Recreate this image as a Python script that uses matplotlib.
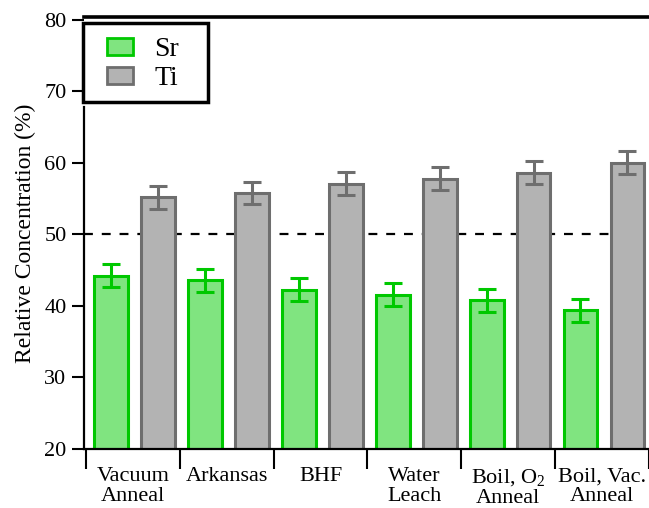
import matplotlib
matplotlib.use("Agg")
import matplotlib.pyplot as plt
from matplotlib.patches import Patch, Rectangle
import numpy as np

plt.rcParams["font.family"] = ["Liberation Serif", "DejaVu Serif"]
plt.rcParams["mathtext.fontset"] = "custom"
plt.rcParams["mathtext.rm"] = "Liberation Serif"
plt.rcParams["mathtext.it"] = "Liberation Serif:italic"

categories = ["Vacuum\nAnneal", "Arkansas", "BHF", "Water\nLeach",
              "Boil, O$_2$\nAnneal", "Boil, Vac.\nAnneal"]
sr_values = [44.2, 43.6, 42.3, 41.6, 40.8, 39.4]
sr_errors = [1.6, 1.6, 1.6, 1.6, 1.6, 1.6]
ti_values = [55.2, 55.8, 57.1, 57.8, 58.6, 60.0]
ti_errors = [1.6, 1.6, 1.6, 1.6, 1.6, 1.6]
yticks = [20, 30, 40, 50, 60, 70, 80]

sr_fill, sr_edge = "#80e480", "#00c800"
ti_fill, ti_edge = "#b3b3b3", "#6e6e6e"

W, H = 649, 508
fig = plt.figure(figsize=(W / 100, H / 100), dpi=100)
ax = fig.add_axes([84 / W, 59 / H, (W - 84) / W, (449 - 17) / H])

idx = np.arange(len(categories))
bw = 0.36
ax.bar(idx + 0.27, sr_values, width=bw, color=sr_fill, edgecolor=sr_edge,
       linewidth=2.2, zorder=2)
ax.bar(idx + 0.77, ti_values, width=bw, color=ti_fill, edgecolor=ti_edge,
       linewidth=2.2, zorder=2)
ax.errorbar(idx + 0.27, sr_values, yerr=sr_errors, fmt="none", ecolor=sr_edge,
            elinewidth=2.2, capsize=6.2, capthick=2.2, zorder=3)
ax.errorbar(idx + 0.77, ti_values, yerr=ti_errors, fmt="none", ecolor=ti_edge,
            elinewidth=2.2, capsize=6.2, capthick=2.2, zorder=3)

# 50 % reference level
ax.axhline(50, color="black", linestyle=(0, (4, 4)), linewidth=1.6, zorder=1)

ax.set_xlim(-0.02, 6.0)
ax.set_ylim(20, 80.4)

ax.set_yticks(yticks)
ax.tick_params(axis="y", direction="out", length=8.6, width=1.5, pad=4,
               labelsize=16)

# category boundaries as ticks, names centred between them
ax.set_xticks(np.arange(0, len(categories) + 1))
ax.set_xticklabels([])
ax.tick_params(axis="x", which="major", direction="out", length=14.5, width=1.5)
ax.set_xticks(idx + 0.5, minor=True)
ax.set_xticklabels(categories, minor=True, fontsize=16, linespacing=1.08)
ax.tick_params(axis="x", which="minor", length=0, pad=13)

for s in ("left", "bottom", "top"):
    ax.spines[s].set_color("black")
ax.spines["right"].set_visible(False)
ax.spines["left"].set_linewidth(1.6)
ax.spines["bottom"].set_linewidth(1.6)
ax.spines["top"].set_linewidth(2.6)
ax.spines["left"].set_bounds(20, 67.8)

ax.set_ylabel("Relative Concentration (%)", fontsize=17)
ax.yaxis.set_label_coords((36 - 84) / (W - 84), 0.5)

# legend: framed box drawn separately, entries placed inside it
box = Rectangle((83 / W, 1 - 102 / H), 125 / W, 79 / H, transform=fig.transFigure,
                facecolor="white", edgecolor="black", linewidth=2.5, zorder=5)
fig.patches.append(box)

handles = [Patch(facecolor=sr_fill, edgecolor=sr_edge, linewidth=2.0, label="Sr"),
           Patch(facecolor=ti_fill, edgecolor=ti_edge, linewidth=2.0, label="Ti")]
leg = fig.legend(handles=handles, loc="upper left",
                 bbox_to_anchor=(107 / W, 1 - 37 / H), bbox_transform=fig.transFigure,
                 fontsize=20, frameon=False, handlelength=0.92, handleheight=0.58,
                 handletextpad=0.78, labelspacing=0.16, borderpad=0,
                 borderaxespad=0)
leg.set_zorder(6)

fig.savefig("out.png", dpi=100)
